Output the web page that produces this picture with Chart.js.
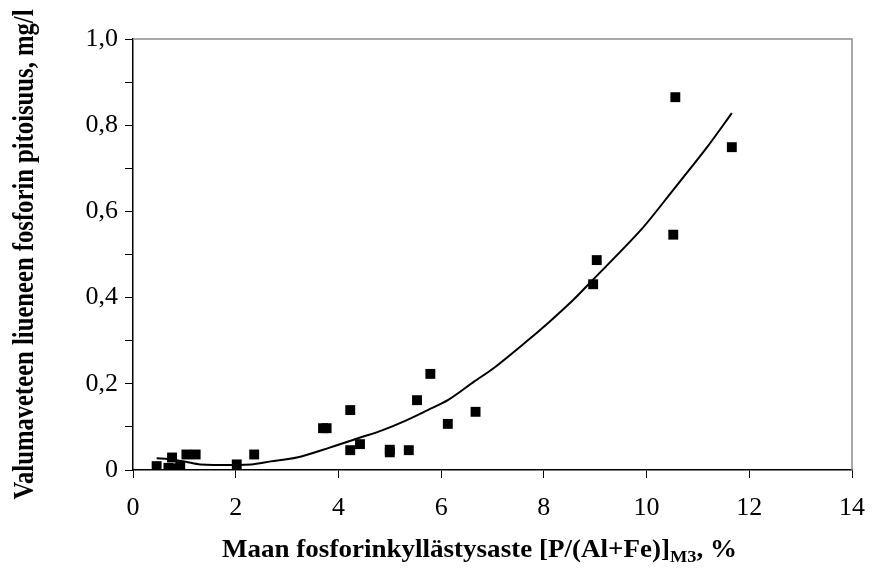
<!DOCTYPE html>
<html>
<head>
<meta charset="utf-8">
<script src="https://cdn.jsdelivr.net/npm/chart.js@4"></script>
<style>
    html, body { margin: 0; padding: 0; background: #fff; }
    #wrap { width: 880px; height: 571px; }
</style>
</head>
<body>
<div id="wrap"><canvas id="chart" width="880" height="571"></canvas></div>
<script>
// measured points: saturation degree (%) vs dissolved P (mg/l)
const pointX = [0.46, 0.69, 0.76, 0.85, 0.92, 1.04, 1.22, 2.02, 2.36, 3.70, 3.77, 4.23, 4.23, 4.42,
    5.00, 5.00, 5.37, 5.53, 5.79, 6.13, 6.67, 8.96, 9.03, 10.52, 10.56, 11.66];
const pointY = [0.009, 0.005, 0.029, 0.004, 0.009, 0.036, 0.036, 0.013, 0.036, 0.097, 0.097, 0.139, 0.046, 0.060,
    0.041, 0.047, 0.046, 0.162, 0.223, 0.107, 0.135, 0.431, 0.487, 0.546, 0.865, 0.749];

// trend curve
const curveX = [0.46, 0.70, 1.03, 1.31, 2.30, 2.68, 3.19, 3.83, 4.47, 4.85, 5.30, 5.74, 6.13, 6.64,
    7.02, 7.66, 8.10, 8.55, 8.92, 9.89, 10.52, 11.16, 11.66];
const curveY = [0.027, 0.025, 0.019, 0.013, 0.013, 0.020, 0.029, 0.052, 0.077, 0.092, 0.114, 0.139, 0.162, 0.205,
    0.236, 0.298, 0.343, 0.392, 0.437, 0.557, 0.650, 0.746, 0.828];

const xTicks = [0, 2, 4, 6, 8, 10, 12, 14];
const yTicks = [0, 0.2, 0.4, 0.6, 0.8, 1.0];

const xTitle = 'Maan fosforinkyllästysaste [P/(Al+Fe)]';
const xTitleSub = 'M3';
const xTitleEnd = ', %';
const yTitle = 'Valumaveteen liueneen fosforin pitoisuus, mg/l';

const FONT = "'Liberation Serif', 'Times New Roman', serif";

const fmtY = (v) => {
    const r = Math.round(v * 10) / 10;
    return r === 0 ? '0' : r.toFixed(1).replace('.', ',');
};

const framePlugin = {
    id: 'frame',
    afterDraw(chart) {
        const ctx = chart.ctx;
        const a = chart.chartArea;
        ctx.save();
        // top and right frame lines
        ctx.strokeStyle = '#8c8c8c';
        ctx.lineWidth = 1.5;
        ctx.beginPath();
        ctx.moveTo(a.left, a.top);
        ctx.lineTo(a.right, a.top);
        ctx.lineTo(a.right, a.bottom);
        ctx.stroke();
        ctx.restore();

        // x title with subscript
        ctx.save();
        ctx.fillStyle = '#000';
        const big = 'bold 25px ' + FONT;
        const small = 'bold 17px ' + FONT;
        ctx.font = big;
        const w1 = ctx.measureText(xTitle).width;
        const w3 = ctx.measureText(xTitleEnd).width;
        ctx.font = small;
        const w2 = ctx.measureText(xTitleSub).width;
        const total = w1 + w2 + w3;
        ctx.translate(222, 557);
        ctx.scale(515 / total, 1);
        ctx.textBaseline = 'alphabetic';
        ctx.textAlign = 'left';
        ctx.font = big;
        ctx.fillText(xTitle, 0, 0);
        ctx.font = small;
        ctx.fillText(xTitleSub, w1, 5);
        ctx.font = big;
        ctx.fillText(xTitleEnd, w1 + w2, 0);
        ctx.restore();

        // y title, rotated
        ctx.save();
        ctx.fillStyle = '#000';
        ctx.translate(26, (a.top + a.bottom) / 2);
        ctx.rotate(-Math.PI / 2);
        ctx.scale(1, 1.2);
        ctx.textAlign = 'center';
        ctx.textBaseline = 'middle';
        ctx.font = 'bold 24px ' + FONT;
        const wy = ctx.measureText(yTitle).width;
        ctx.scale(490 / wy, 1);
        ctx.fillText(yTitle, 0, 0);
        ctx.restore();
    }
};

const ctx = document.getElementById('chart').getContext('2d');
new Chart(ctx, {
    type: 'scatter',
    data: {
        datasets: [
            {
                label: 'trend',
                data: curveX.map((v, i) => ({ x: v, y: curveY[i] })),
                showLine: true,
                borderColor: '#000',
                borderWidth: 2,
                pointRadius: 0,
                tension: 0.3,
                fill: false
            },
            {
                label: 'havainnot',
                data: pointX.map((v, i) => ({ x: v, y: pointY[i] })),
                pointStyle: 'rect',
                pointRadius: 7,
                pointBackgroundColor: '#000',
                pointBorderColor: '#000',
                pointBorderWidth: 0,
                showLine: false
            }
        ]
    },
    options: {
        responsive: false,
        animation: false,
        layout: { padding: { top: 39, right: 15, left: 0, bottom: 0 } },
        plugins: {
            legend: { display: false },
            tooltip: { enabled: false }
        },
        scales: {
            x: {
                type: 'linear',
                min: 0,
                max: 14,
                afterBuildTicks: (scale) => { scale.ticks = xTicks.map(v => ({ value: v })); },
                afterFit: (scale) => { scale.height = 101; },
                ticks: {
                    color: '#000',
                    font: { family: FONT, size: 26 },
                    padding: 15,
                    maxRotation: 0,
                    callback: (v) => String(v)
                },
                grid: {
                    drawOnChartArea: false,
                    tickColor: '#000',
                    tickLength: 8,
                    tickWidth: 1
                },
                border: { color: '#000', width: 1.5 }
            },
            y: {
                type: 'linear',
                min: 0,
                max: 1,
                ticks: {
                    stepSize: 0.1,
                    color: '#000',
                    font: { family: FONT, size: 26 },
                    padding: 7,
                    callback: (v) => yTicks.some(t => Math.abs(t - v) < 1e-6) ? fmtY(v) : ''
                },
                afterFit: (scale) => { scale.width = 133; },
                grid: {
                    drawOnChartArea: false,
                    tickColor: '#000',
                    tickLength: 8,
                    tickWidth: 1
                },
                border: { color: '#000', width: 1.5 }
            }
        }
    },
    plugins: [framePlugin]
});
</script>
</body>
</html>
